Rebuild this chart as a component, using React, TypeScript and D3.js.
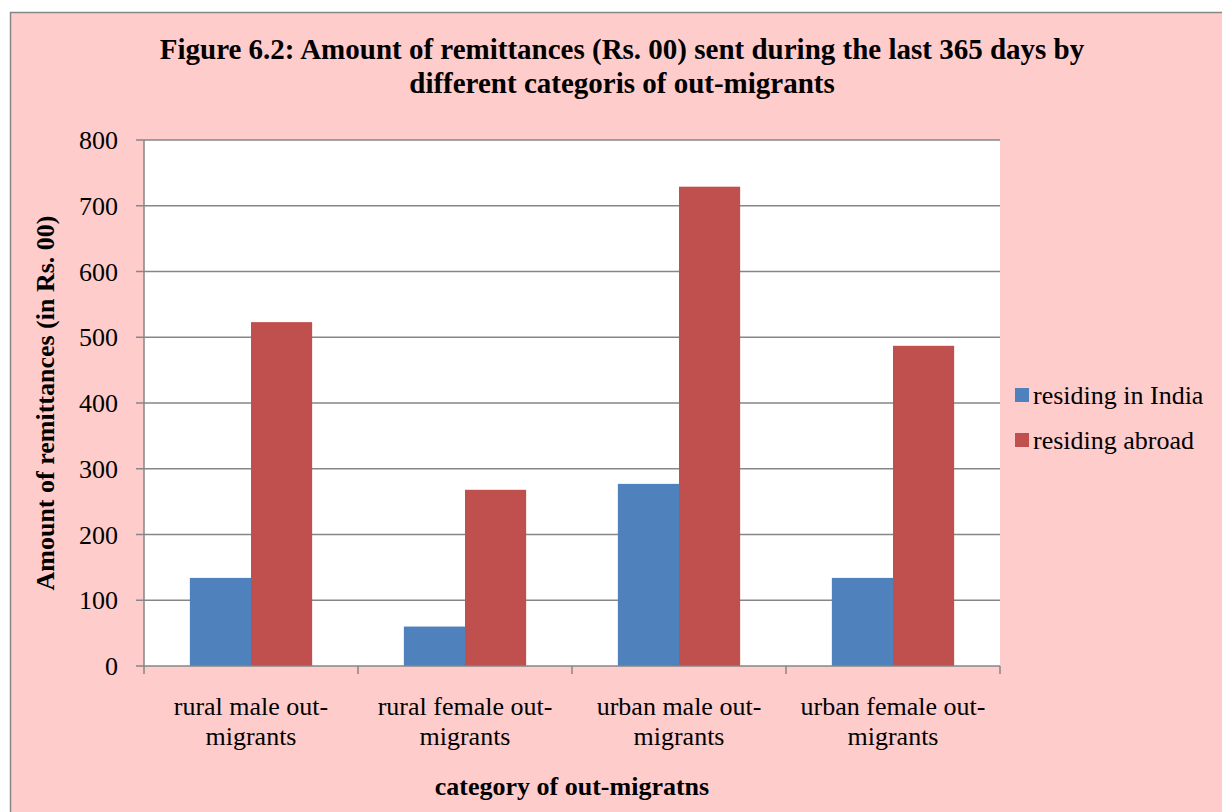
import React from "react";
import * as d3 from "d3";

const categories = [
  ["rural male out-", "migrants"],
  ["rural female out-", "migrants"],
  ["urban male out-", "migrants"],
  ["urban female out-", "migrants"],
];
const seriesNames = ["residing in India", "residing abroad"];
const residingIndia = [134, 60, 277, 134];
const residingAbroad = [523, 268, 729, 487];
const yTicks = [0, 100, 200, 300, 400, 500, 600, 700, 800];
const colors = ["#4F81BD", "#C0504D"];

const W = 1222;
const H = 812;
const plot = { left: 144, right: 1000, top: 140, bottom: 666 };
const FONT = "'Liberation Serif', 'Times New Roman', serif";

export default function App() {
  const x0 = d3
    .scaleBand<number>()
    .domain(categories.map((_, i) => i))
    .range([plot.left, plot.right])
    .paddingInner(0)
    .paddingOuter(0);
  const groupW = x0.bandwidth();
  const barW = groupW / 3.5;
  const x1 = d3
    .scaleBand<number>()
    .domain([0, 1])
    .range([(groupW - 2 * barW) / 2, (groupW + 2 * barW) / 2])
    .padding(0);
  const y = d3.scaleLinear().domain([0, 800]).range([plot.bottom, plot.top]);
  const series = [residingIndia, residingAbroad];
  const grid = "#868686";

  return (
    <div style={{ position: "absolute", left: 0, top: 0 }}>
      <svg width={W} height={H} style={{ display: "block" }}>
        <rect x={0} y={0} width={W} height={H} fill="#ffffff" />
        <rect x={10.5} y={12.5} width={W + 20} height={H + 20} fill="#FFCCCC" stroke={grid} strokeWidth={1.5} />
        <text x={622} y={59} textAnchor="middle" fontFamily={FONT} fontWeight="bold" fontSize={29} fill="#000">
          Figure 6.2: Amount of remittances (Rs. 00) sent during the last 365 days by
        </text>
        <text x={622} y={93} textAnchor="middle" fontFamily={FONT} fontWeight="bold" fontSize={29} fill="#000">
          different categoris of out-migrants
        </text>
        <rect x={plot.left} y={plot.top} width={plot.right - plot.left} height={plot.bottom - plot.top} fill="#ffffff" />
        {yTicks.map((t) => (
          <g key={t}>
            {t > 0 && (
              <line x1={plot.left} x2={plot.right} y1={y(t)} y2={y(t)} stroke={grid} strokeWidth={1.5} />
            )}
            <line x1={plot.left - 8} x2={plot.left} y1={y(t)} y2={y(t)} stroke={grid} strokeWidth={1.5} />
            <text x={118} y={y(t)} dy="0.35em" textAnchor="end" fontFamily={FONT} fontSize={26} fill="#000">
              {t}
            </text>
          </g>
        ))}
        {categories.map((_, i) =>
          series.map((s, j) => (
            <rect
              key={`${i}-${j}`}
              x={(x0(i) as number) + (x1(j) as number)}
              y={y(s[i])}
              width={x1.bandwidth()}
              height={y(0) - y(s[i])}
              fill={colors[j]}
            />
          ))
        )}
        <line x1={plot.left} x2={plot.left} y1={plot.top} y2={plot.bottom} stroke={grid} strokeWidth={1.5} />
        <line x1={plot.left} x2={plot.right} y1={plot.bottom} y2={plot.bottom} stroke={grid} strokeWidth={1.5} />
        {[...categories.map((_, i) => x0(i) as number), plot.right].map((xv, i) => (
          <line key={i} x1={xv} x2={xv} y1={plot.bottom} y2={plot.bottom + 8} stroke={grid} strokeWidth={1.5} />
        ))}
        {categories.map((lines, i) => (
          <text key={i} textAnchor="middle" fontFamily={FONT} fontSize={26} fill="#000">
            {lines.map((l, k) => (
              <tspan key={k} x={(x0(i) as number) + groupW / 2} y={715 + k * 30}>
                {l}
              </tspan>
            ))}
          </text>
        ))}
        <text x={572} y={795} textAnchor="middle" fontFamily={FONT} fontWeight="bold" fontSize={26} fill="#000">
          category of out-migratns
        </text>
        <text
          transform={`translate(54, ${(plot.top + plot.bottom) / 2}) rotate(-90)`}
          textAnchor="middle"
          fontFamily={FONT}
          fontWeight="bold"
          fontSize={26}
          fill="#000"
        >
          Amount of remittances (in Rs. 00)
        </text>
        {seriesNames.map((n, j) => (
          <g key={n}>
            <rect x={1015} y={388 + j * 45} width={14} height={14} fill={colors[j]} />
            <text x={1033} y={404 + j * 45} fontFamily={FONT} fontSize={26} fill="#000">
              {n}
            </text>
          </g>
        ))}
      </svg>
    </div>
  );
}
